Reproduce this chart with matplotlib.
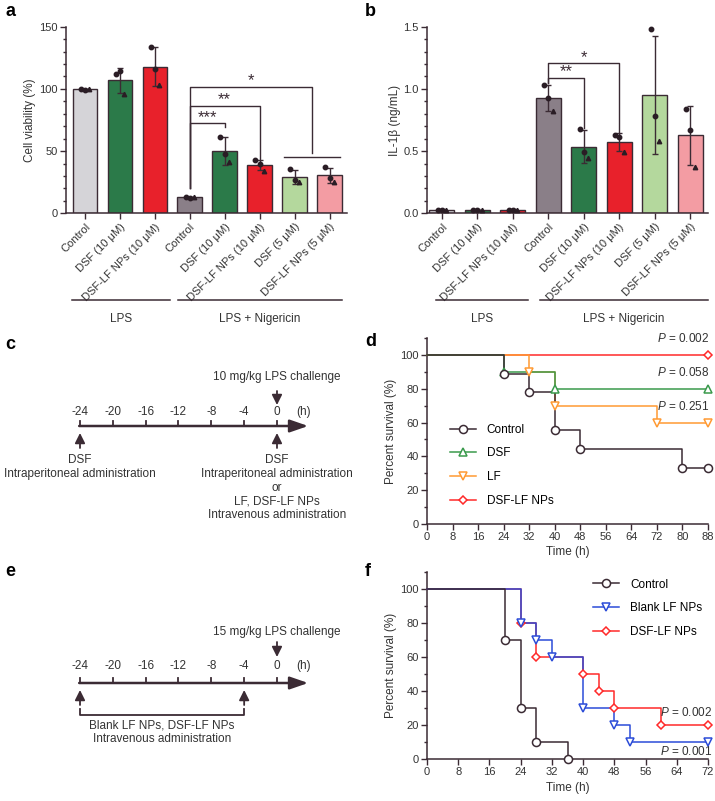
import matplotlib
matplotlib.use('Agg')
import matplotlib.pyplot as plt
import numpy as np
from matplotlib.ticker import MultipleLocator, FixedLocator

plt.rcParams['font.family'] = ['Liberation Sans', 'DejaVu Sans']
plt.rcParams['mathtext.fontset'] = 'custom'
plt.rcParams['mathtext.it'] = 'Liberation Sans:italic'
plt.rcParams['mathtext.rm'] = 'Liberation Sans'

DARK = '#3b2b34'
W, H = 715, 801

# ---------------- data ----------------
categories = ['Control', 'DSF (10 μM)', 'DSF-LF NPs (10 μM)', 'Control', 'DSF (10 μM)',
              'DSF-LF NPs (10 μM)', 'DSF (5 μM)', 'DSF-LF NPs (5 μM)']
bar_colors = ['#d5d4d8', '#2b7a49', '#e8212b', '#8a7f88', '#2b7a49', '#e8212b', '#b4d89d', '#f39ca3']

via_mean = [99.8, 107, 118, 13, 50, 39, 29, 30.5]
via_sd = [0.4, 10, 16, 0.5, 11, 4, 5.5, 6]
via_pts = [[100.2, 99.4, 99.8], [112, 114, 96], [134, 116, 103], [13.5, 12.6, 12.9],
           [61.6, 47.4, 41], [43, 40, 34], [36, 27, 25.5], [37.5, 28.7, 25.4]]

il_mean = [0.03, 0.03, 0.03, 0.924, 0.536, 0.576, 0.951, 0.627]
il_sd = [0.003, 0.003, 0.003, 0.105, 0.13, 0.072, 0.472, 0.237]
il_pts = [[0.03, 0.03, 0.03], [0.03, 0.03, 0.03], [0.03, 0.03, 0.03], [1.03, 0.924, 0.82],
          [0.675, 0.49, 0.447], [0.627, 0.616, 0.496], [1.479, 0.785, 0.584], [0.838, 0.67, 0.375]]

# survival d (10 mg/kg)
d_ctrl_t = [0, 24, 32, 40, 48, 80, 88]
d_ctrl_s = [100, 88.9, 77.8, 55.6, 44.4, 33.3, 33.3]
d_dsf_t = [0, 24, 40, 88]
d_dsf_s = [100, 90, 80, 80]
d_lf_t = [0, 32, 40, 72, 88]
d_lf_s = [100, 90, 70, 60, 60]
d_np_t = [0, 88]
d_np_s = [100, 100]

# survival f (15 mg/kg)
f_ctrl_t = [0, 20, 24, 28, 36]
f_ctrl_s = [100, 70, 30, 10, 0]
f_blank_t = [0, 24, 28, 32, 40, 48, 52, 72]
f_blank_s = [100, 80, 70, 60, 30, 20, 10, 10]
f_np_t = [0, 24, 28, 40, 44, 48, 60, 72]
f_np_s = [100, 80, 60, 50, 40, 30, 20, 20]

hours = [-24, -20, -16, -12, -8, -4, 0]

FS_TICK = 8
FS_LAB = 8.5

fig = plt.figure(figsize=(W / 100, H / 100), dpi=100)


def axes_px(x0, y0, x1, y1):
    return fig.add_axes([x0 / W, 1 - y1 / H, (x1 - x0) / W, (y1 - y0) / H])


def style_axes(ax):
    for s in ['top', 'right']:
        ax.spines[s].set_visible(False)
    for s in ['left', 'bottom']:
        ax.spines[s].set_color(DARK)
        ax.spines[s].set_linewidth(1.1)
    ax.tick_params(which='both', direction='out', color=DARK, width=1.0,
                   labelsize=FS_TICK, labelcolor='#333333')
    ax.tick_params(which='major', length=4, pad=2)
    ax.tick_params(which='minor', length=2.5)


def bar_panel(ax, means, sds, pts, ymax, ymajor, yminor, ylabel, xlim, lps_span, nig_span):
    x = np.arange(len(means))
    ax.bar(x, means, width=0.7, color=bar_colors, edgecolor=DARK, linewidth=1.0, zorder=2)
    ax.errorbar(x, means, yerr=sds, fmt='none', ecolor=DARK, elinewidth=1.0,
                capsize=2.5, capthick=1.0, zorder=3)
    offs = [-0.12, 0.0, 0.12]
    mk = ['o', 'o', '^']
    for i, p in enumerate(pts):
        for j, v in enumerate(p):
            ax.plot(x[i] + offs[j], v, marker=mk[j], ms=3.2, color='#2a1d25',
                    zorder=4, clip_on=False)
    ax.set_xlim(*xlim)
    ax.set_ylim(0, ymax)
    ax.yaxis.set_major_locator(MultipleLocator(ymajor))
    ax.yaxis.set_minor_locator(MultipleLocator(yminor))
    ax.set_xticks(x)
    ax.set_xticklabels(categories, rotation=45, ha='right', va='top',
                       rotation_mode='anchor', fontsize=FS_TICK)
    ax.set_ylabel(ylabel, fontsize=FS_LAB, color='#333333', labelpad=2)
    style_axes(ax)
    tr = ax.get_xaxis_transform()
    for (a, b), lab in [(lps_span, 'LPS'), (nig_span, 'LPS + Nigericin')]:
        ax.plot([a, b], [-0.462, -0.462], color=DARK, lw=1.1, transform=tr, clip_on=False)
        ax.text((a + b) / 2, -0.565, lab, transform=tr, ha='center', va='center',
                fontsize=FS_LAB, color='#333333')


def bracket(ax, x0, x1, y, y0_end, y1_end, label, ytext):
    ax.plot([x0, x0, x1, x1], [y0_end, y, y, y1_end], color=DARK, lw=1.0, zorder=5)
    ax.text((x0 + x1) / 2, ytext, label, ha='center', va='center', fontsize=12, color=DARK)


# ---------------- panel a ----------------
ax_a = axes_px(66, 26.7, 347, 213.3)
bar_panel(ax_a, via_mean, via_sd, via_pts, 150, 50, 10, 'Cell viability (%)',
          (-0.54, 7.5), (-0.37, 2.43), (2.66, 7.37))
bracket(ax_a, 3, 4, 72.3, 20, 69.6, '***', 77)
bracket(ax_a, 3, 5, 86.2, 20, 43.4, '**', 91.5)
bracket(ax_a, 3, 6.5, 101.2, 20, 48.7, '*', 106.5)
ax_a.plot([5.71, 7.29], [45, 45], color=DARK, lw=1.0)

# ---------------- panel b ----------------
ax_b = axes_px(427, 26.7, 708, 213.3)
bar_panel(ax_b, il_mean, il_sd, il_pts, 1.5, 0.5, 0.1, 'IL-1β (ng/mL)',
          (-0.42, 7.5), (-0.17, 2.43), (2.77, 7.5))
ax_b.yaxis.set_major_formatter(matplotlib.ticker.FormatStrFormatter('%.1f'))
bracket(ax_b, 3, 4, 1.09, 1.045, 0.683, '**', 1.14)
bracket(ax_b, 3, 5, 1.21, 1.045, 0.648, '*', 1.255)


# ---------------- survival panels ----------------
def surv(ax, t, s, color, marker, ms, label):
    ax.step(t, s, where='post', color=color, lw=1.1, zorder=3, clip_on=False)
    ax.plot(t[1:], s[1:], ls='none', marker=marker, ms=ms, mfc='white', mec=color,
            mew=1.1, zorder=4, clip_on=False)
    ax.plot([], [], color=color, lw=1.1, marker=marker, ms=ms, mfc='white', mec=color,
            mew=1.1, label=label)


def surv_axes(ax, xmax):
    ax.set_xlim(0, xmax)
    ax.set_ylim(0, 110)
    ax.set_xticks(np.arange(0, xmax + 1, 8))
    ax.yaxis.set_major_locator(FixedLocator([0, 20, 40, 60, 80, 100]))
    ax.yaxis.set_minor_locator(FixedLocator([10, 30, 50, 70, 90, 110]))
    ax.set_xlabel('Time (h)', fontsize=FS_LAB, color='#333333', labelpad=3)
    ax.set_ylabel('Percent survival (%)', fontsize=FS_LAB, color='#333333', labelpad=2)
    style_axes(ax)


C_CTRL = '#3b2b34'
C_DSF = '#3a9a4c'
C_LF = '#ff9a33'
C_NP = '#ff2a2a'
C_BLANK = '#2b4cd8'

ax_d = axes_px(427, 338, 708, 524)
surv(ax_d, d_np_t, d_np_s, C_NP, 'D', 4.2, 'DSF-LF NPs')
surv(ax_d, d_lf_t, d_lf_s, C_LF, 'v', 5.5, 'LF')
surv(ax_d, d_dsf_t, d_dsf_s, C_DSF, '^', 5.5, 'DSF')
surv(ax_d, d_ctrl_t, d_ctrl_s, C_CTRL, 'o', 5.8, 'Control')
surv_axes(ax_d, 88)
h, l = ax_d.get_legend_handles_labels()
order = [3, 2, 1, 0]
ax_d.legend([h[i] for i in order], [l[i] for i in order], loc='upper left',
            bbox_to_anchor=(0.065, 0.565), frameon=False, fontsize=FS_LAB,
            handlelength=2.2, handletextpad=0.9, labelspacing=1.0, borderaxespad=0)
for y, p in [(110, '0.002'), (89.4, '0.058'), (69.4, '0.251')]:
    ax_d.text(88.3, y, r'$\mathit{P}$ = ' + p, ha='right', va='center', fontsize=FS_LAB,
              color='#333333', clip_on=False)

ax_f = axes_px(427, 572, 708, 759)
surv(ax_f, f_np_t, f_np_s, C_NP, 'D', 4.2, 'DSF-LF NPs')
surv(ax_f, f_blank_t, f_blank_s, C_BLANK, 'v', 5.5, 'Blank LF NPs')
surv(ax_f, f_ctrl_t, f_ctrl_s, C_CTRL, 'o', 5.8, 'Control')
surv_axes(ax_f, 72)
h, l = ax_f.get_legend_handles_labels()
order = [2, 1, 0]
ax_f.legend([h[i] for i in order], [l[i] for i in order], loc='upper left',
            bbox_to_anchor=(0.575, 0.99), frameon=False, fontsize=FS_LAB,
            handlelength=2.2, handletextpad=0.9, labelspacing=1.0, borderaxespad=0)
for y, p in [(27.5, '0.002'), (4.7, '0.001')]:
    ax_f.text(73, y, r'$\mathit{P}$ = ' + p, ha='right', va='center', fontsize=FS_LAB,
              color='#333333', clip_on=False)


# ---------------- timelines ----------------
def timeline_axes(y0, y1):
    ax = axes_px(0, y0, 360, y1)
    ax.set_xlim(-24 - 80 / 8.208, (360 - 80) / 8.208 - 24)
    ax.set_ylim(y1, y0)
    ax.axis('off')
    return ax


def arrow(ax, x, ya, yb, lw=1.3, hl=0.6, hw=0.3):
    ax.annotate('', xy=(x, yb), xytext=(x, ya),
                arrowprops=dict(arrowstyle='-|>,head_length=%g,head_width=%g' % (hl, hw),
                                lw=lw, color=DARK, shrinkA=0, shrinkB=0),
                annotation_clip=False)


def timeline(ax, yline, ylab):
    ax.annotate('', xy=(3.8, yline), xytext=(-24.1, yline),
                arrowprops=dict(arrowstyle='-|>,head_length=1.1,head_width=0.38',
                                lw=1.8, color=DARK, shrinkA=0, shrinkB=0),
                annotation_clip=False)
    for hh in hours:
        ax.plot([hh, hh], [yline, yline - 5], color=DARK, lw=1.3)
        ax.text(hh, ylab, str(hh), ha='center', va='center', fontsize=FS_LAB, color='#333333')
    ax.text(3.2, ylab, '(h)', ha='center', va='center', fontsize=FS_LAB, color='#333333')


TK = dict(ha='center', va='center', fontsize=FS_LAB, color='#333333')

ax_c = timeline_axes(355, 540)
timeline(ax_c, 426, 412)
ax_c.text(0, 377, '10 mg/kg LPS challenge', **TK)
arrow(ax_c, 0, 391, 405)
for hh in [-24, 0]:
    arrow(ax_c, hh, 448, 433)
ax_c.text(-24, 460, 'DSF', **TK)
ax_c.text(-24, 474, 'Intraperitoneal administration', **TK)
for y, s in [(460, 'DSF'), (474, 'Intraperitoneal administration'), (488, 'or'),
             (502, 'LF, DSF-LF NPs'), (515, 'Intravenous administration')]:
    ax_c.text(0, y, s, **TK)

ax_e = timeline_axes(560, 800)
timeline(ax_e, 683, 666)
ax_e.text(0, 632, '15 mg/kg LPS challenge', **TK)
arrow(ax_e, 0, 642, 657)
for hh in [-24, -4]:
    arrow(ax_e, hh, 705, 690)
ax_e.plot([-24, -24, -4, -4], [709, 715, 715, 709], color=DARK, lw=1.3)
ax_e.text(-14, 725, 'Blank LF NPs, DSF-LF NPs', **TK)
ax_e.text(-14, 739, 'Intravenous administration', **TK)

# ---------------- panel letters ----------------
for s, x, y in [('a', 5, 12), ('b', 365, 12), ('c', 5, 345), ('d', 365, 342),
                ('e', 5, 572), ('f', 365, 572)]:
    fig.text(x / W, 1 - y / H, s, fontsize=13, fontweight='bold', ha='left', va='center',
             color='black')

fig.savefig('out.png', dpi=100)
